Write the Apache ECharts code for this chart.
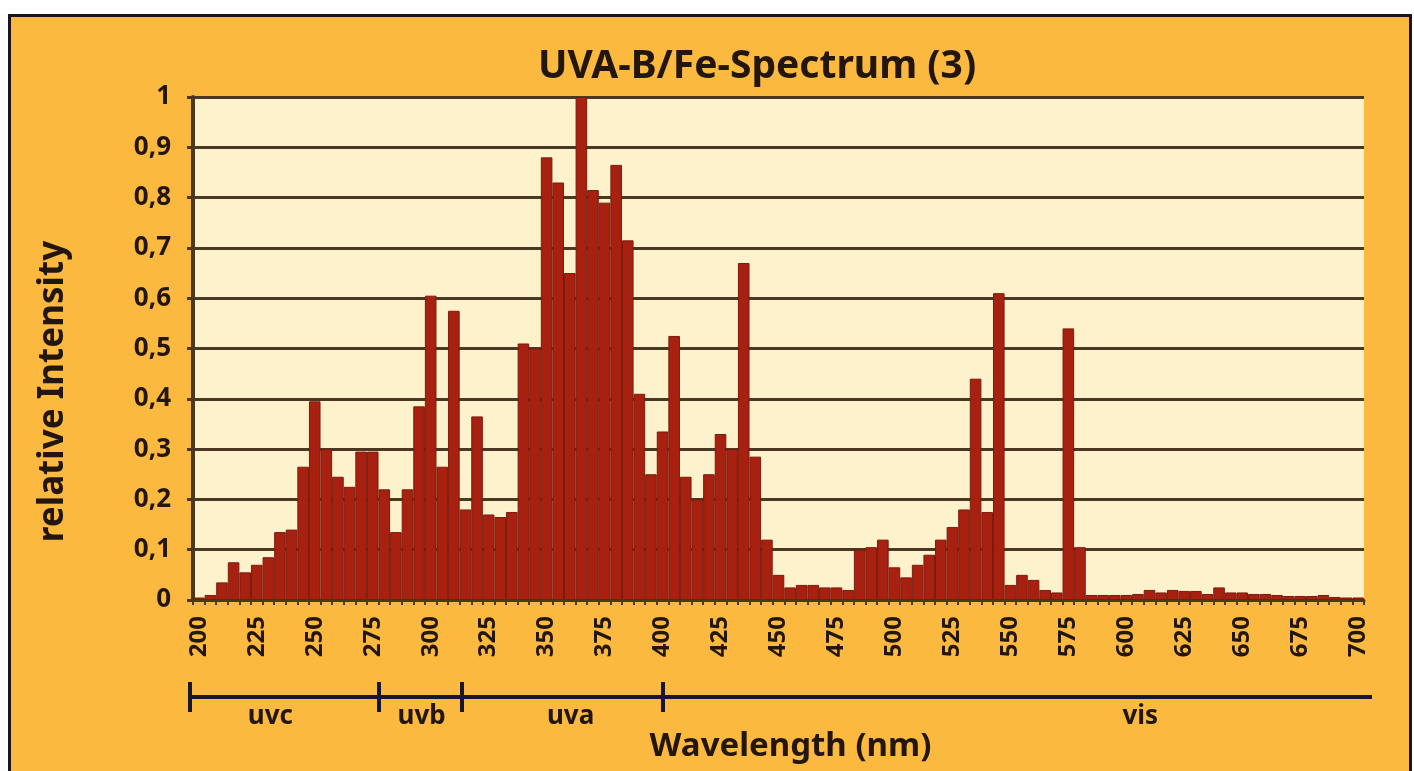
<!DOCTYPE html>
<html>
<head>
<meta charset="utf-8">
<script src="https://cdn.jsdelivr.net/npm/echarts@6/dist/echarts.min.js"></script>
<style>
  html, body { margin: 0; padding: 0; background: #fff; }
  #panel { position: absolute; left: 8px; top: 14px; width: 1398px; height: 770px;
           background: #fbb93f; border: 3px solid #1d1320; border-bottom: none; }
  #chart { position: absolute; left: 0; top: 0; width: 1414px; height: 771px; }
</style>
</head>
<body>
<div id="panel"></div>
<div id="chart"></div>
<script>
// wavelength categories, 200..700 nm in 5 nm steps
var wavelengths = []
for (var w = 200; w <= 700; w += 5) wavelengths.push(String(w))

// relative intensity, one value per 5 nm
var intensity = [
  0.005, 0.01, 0.035, 0.075, 0.055, 0.07, 0.085, 0.135, 0.14, 0.265,   // 200-245
  0.395, 0.30, 0.245, 0.225, 0.295, 0.295, 0.22, 0.135, 0.22, 0.385,   // 250-295
  0.605, 0.265, 0.575, 0.18, 0.365, 0.17, 0.165, 0.175, 0.51, 0.50,    // 300-345
  0.88, 0.83, 0.65, 1.0, 0.815, 0.79, 0.865, 0.715, 0.41, 0.25,        // 350-395
  0.335, 0.525, 0.245, 0.2, 0.25, 0.33, 0.30, 0.67, 0.285, 0.12,       // 400-445
  0.05, 0.025, 0.03, 0.03, 0.025, 0.025, 0.02, 0.1, 0.105, 0.12,       // 450-495
  0.065, 0.045, 0.07, 0.09, 0.12, 0.145, 0.18, 0.44, 0.175, 0.61,      // 500-545
  0.03, 0.05, 0.04, 0.02, 0.015, 0.54, 0.105, 0.01, 0.01, 0.01,        // 550-595
  0.01, 0.012, 0.02, 0.015, 0.02, 0.018, 0.018, 0.012, 0.025, 0.015,   // 600-645
  0.015, 0.012, 0.012, 0.01, 0.008, 0.008, 0.008, 0.01, 0.006, 0.005,  // 650-695
  0.005                                                                // 700
]

// spectral bands under the axis
var bandEdges = [200, 280, 315, 400]
var bandNames = ['uvc', 'uvb', 'uva', 'vis']
var bandLabelAt = [234, 298, 361, 602]

var ink = '#22160e'
var gridBrown = '#4a3822'
var font = 'Noto Sans'

var chart = echarts.init(document.getElementById('chart'), null, { renderer: 'canvas' })

var option = {
  backgroundColor: 'transparent',
  animation: false,
  title: {
    text: 'UVA-B/Fe-Spectrum (3)',
    left: 752,
    top: 42,
    textAlign: 'center',
    textStyle: { fontFamily: font, fontWeight: 'bold', fontSize: 39, color: ink }
  },
  grid: [
    {
      left: 193, top: 97, width: 1171, height: 503,
      show: true, backgroundColor: '#fef2cc', borderWidth: 0
    },
    { left: 190, top: 682, width: 1182, height: 30 }
  ],
  xAxis: [
    {
      type: 'category',
      gridIndex: 0,
      data: wavelengths,
      boundaryGap: true,
      axisLine: { lineStyle: { color: gridBrown, width: 3 } },
      axisTick: { show: true, interval: 0, length: 5, lineStyle: { color: gridBrown, width: 2 } },
      axisLabel: {
        interval: 4, rotate: 90, margin: 16,
        fontFamily: font, fontWeight: 'bold', fontSize: 24, color: ink
      },
      name: 'Wavelength (nm)',
      nameLocation: 'middle',
      nameGap: 130,
      nameTextStyle: { fontFamily: font, fontWeight: 'bold', fontSize: 33, color: ink, padding: [0, 0, 0, 24] }
    },
    { type: 'value', gridIndex: 1, min: 200, max: 700, show: false }
  ],
  yAxis: [
    {
      type: 'value',
      gridIndex: 0,
      min: 0, max: 1, interval: 0.1,
      axisLine: { show: true, lineStyle: { color: gridBrown, width: 4 } },
      axisTick: { show: true, length: 6, lineStyle: { color: gridBrown, width: 3 } },
      splitLine: { show: true, lineStyle: { color: gridBrown, width: 3 } },
      axisLabel: {
        margin: 22,
        fontFamily: font, fontWeight: 'bold', fontSize: 26, color: ink,
        formatter: function (v) { return String(Math.round(v * 10) / 10).replace('.', ',') }
      },
      name: 'relative Intensity',
      nameLocation: 'middle',
      nameGap: 122,
      nameTextStyle: { fontFamily: font, fontWeight: 'bold', fontSize: 35, color: ink, padding: [0, 86, 0, 0] }
    },
    { type: 'value', gridIndex: 1, min: 0, max: 1, show: false }
  ],
  series: [
    {
      type: 'bar',
      xAxisIndex: 0, yAxisIndex: 0,
      data: intensity,
      barCategoryGap: '0%',
      itemStyle: { color: '#a82010', borderColor: '#7a1b0d', borderWidth: 1 }
    },
    {
      // band ruler line with its boundary markers
      type: 'line',
      xAxisIndex: 1, yAxisIndex: 1,
      data: [[200, 0.5], [700, 0.5]],
      symbol: 'none',
      silent: true,
      lineStyle: { color: '#171630', width: 4 },
      markLine: {
        silent: true,
        symbol: 'none',
        label: { show: false },
        lineStyle: { color: '#171630', width: 4, type: 'solid' },
        data: bandEdges.map(function (v) { return { xAxis: v } })
      }
    },
    {
      type: 'scatter',
      xAxisIndex: 1, yAxisIndex: 1,
      symbolSize: 1,
      silent: true,
      itemStyle: { opacity: 0 },
      data: bandNames.map(function (n, i) { return { name: n, value: [bandLabelAt[i], 0.5] } }),
      label: {
        show: true, position: 'bottom', distance: 6, formatter: '{b}', opacity: 1,
        fontFamily: font, fontWeight: 'bold', fontSize: 26, color: ink
      }
    }
  ]
}

chart.setOption(option)
</script>
</body>
</html>
